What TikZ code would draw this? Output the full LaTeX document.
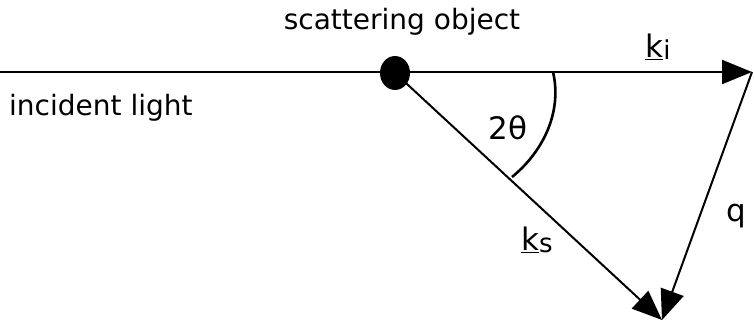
\documentclass[tikz,border=0pt]{standalone}
\usepackage{fontspec}
\setmainfont{DejaVu Sans}
\usetikzlibrary{arrows.meta}
\tikzset{
  vec/.style={line width=2pt,-{Triangle[length=30pt,width=24pt]}},
  lbl/.style={font=\fontsize{28}{32}\selectfont,inner sep=0pt},
  hand/.style={font=\fontsize{31}{34}\selectfont,inner sep=0pt}
}
\begin{document}
\begin{tikzpicture}[x=1pt,y=-1pt]
\useasboundingbox (0,0) rectangle (754,323);
\coordinate (start) at (0,72);
\coordinate (obj) at (394,72);
\coordinate (tipi) at (752,72);
\coordinate (tips) at (662,320);
\coordinate (a1) at (553,72);
\coordinate (a2) at (512,177);
\draw[vec] (start) -- (tipi);
\draw[vec] (obj) -- (tips);
\draw[vec] (tipi) -- (tips);
\fill (395,73) ellipse (15pt and 17pt);
\draw[line width=2.6pt] (a1) .. controls (562,110) and (545,150) .. (a2);
\node[lbl] (so) at (402,22) {scattering object};
\node[lbl,anchor=west] (il) at (9,108) {incident light};
\node[hand] (th) at (508,128) {2θ};
\node[hand] (ki) at (658,47) {\underline{k}\raisebox{-2pt}{\fontsize{26}{28}\selectfont i}};
\node[hand] (ks) at (537,240) {\underline{k}\raisebox{-2pt}{\fontsize{26}{28}\selectfont s}};
\node[hand] (q) at (736,216) {q};
\end{tikzpicture}
\end{document}
